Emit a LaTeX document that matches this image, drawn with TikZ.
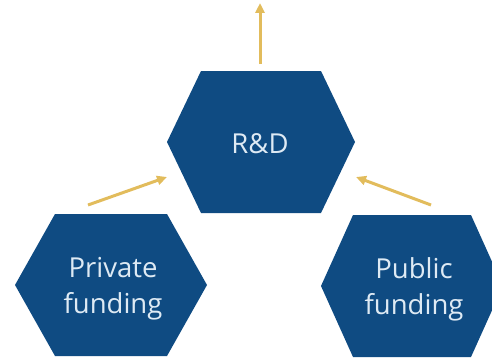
\documentclass[tikz,border=0pt]{standalone}
\usepackage{fontspec}
\setmainfont{Open Sans}
\usetikzlibrary{arrows.meta}
\definecolor{hexblue}{RGB}{15,75,130}
\definecolor{hextext}{RGB}{222,234,244}
\definecolor{gold}{RGB}{226,188,92}
\begin{document}
\begin{tikzpicture}[x=1pt,y=-1pt,
  hexlabel/.style={text=hextext,font=\fontsize{27.5}{36}\selectfont,align=center,inner sep=0pt},
  goldarrow/.style={draw=gold,line width=3pt,-{Triangle[length=10pt,width=9pt]}}]
\useasboundingbox (0,0) rectangle (492,361);
% hexagons
\newcommand{\hexpath}[4]{% cx, cy, halfwidth, tophalf
  \fill[hexblue] (#1-#3,#2) -- (#1-#4,#2-71) -- (#1+#4,#2-71) -- (#1+#3,#2) -- (#1+#4,#2+71) -- (#1-#4,#2+71) -- cycle;}
\hexpath{261}{142}{94}{60}
\hexpath{111}{285}{96}{56}
\hexpath{412}{286}{91}{59}
\node[hexlabel] (rd) at (260,144) {R\&D};
\node[hexlabel] (priv) at (113,289) {Private\\funding};
\node[hexlabel] (pub) at (414,289) {Public\\funding};
\coordinate (upS) at (260,64);
\coordinate (upE) at (260,3);
\coordinate (privS) at (88,205);
\coordinate (privE) at (167,177);
\coordinate (pubS) at (431,205);
\coordinate (pubE) at (356,177);
\draw[goldarrow] (upS) -- (upE);
\draw[goldarrow] (privS) -- (privE);
\draw[goldarrow] (pubS) -- (pubE);
\end{tikzpicture}
\end{document}
